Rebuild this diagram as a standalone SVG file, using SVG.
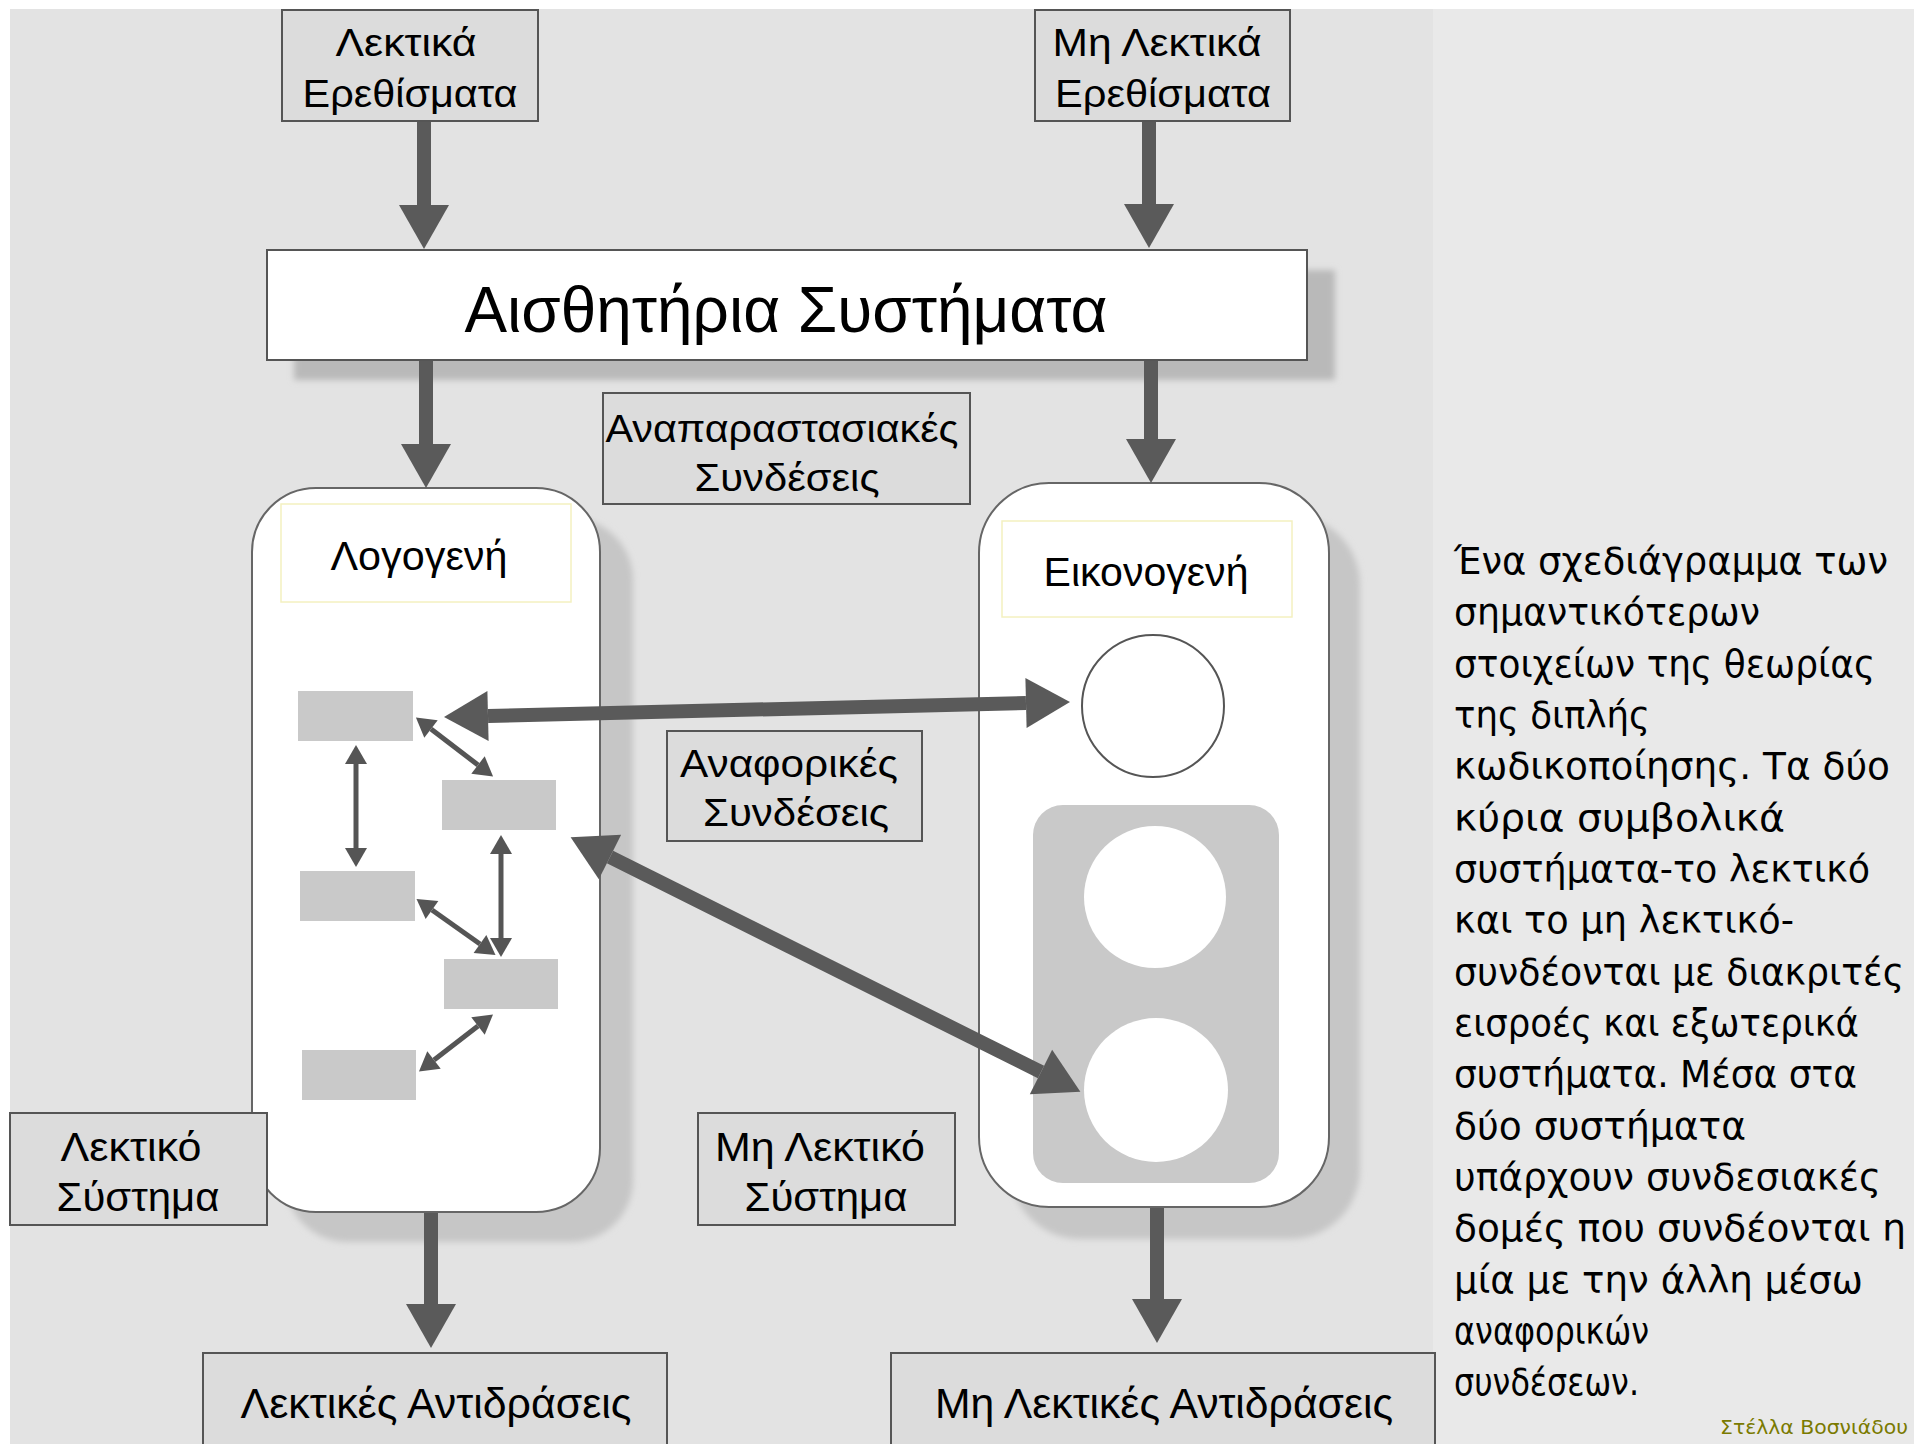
<svg xmlns="http://www.w3.org/2000/svg" width="1914" height="1444" viewBox="0 0 1914 1444">
<style>
  .lbl { font-family: "Liberation Sans", Arial, sans-serif; fill: #000; text-anchor: middle; }
  .box { fill: #dcdcdc; stroke: #555; stroke-width: 2; }
  .sys { fill: #ffffff; stroke: #666; stroke-width: 2; }
  .tag { fill: #ffffff; stroke: #f4f1c0; stroke-width: 1.5; }
  .blk { fill: #c9c9c9; }
  .big { stroke: #5a5a5a; stroke-width: 14; fill: none; }
  .small { stroke: #555; stroke-width: 5; fill: none; }
  .para { font-family: "DejaVu Sans", Verdana, sans-serif; font-size: 37px; fill: #000; }
</style>
<defs>
  <marker id="bigHead" markerUnits="userSpaceOnUse" markerWidth="46" markerHeight="52" refX="0" refY="26" orient="auto-start-reverse" overflow="visible">
    <path d="M0,1 L44,26 L0,51 z" fill="#5a5a5a"/>
  </marker>
  <marker id="smallHead" markerUnits="userSpaceOnUse" markerWidth="20" markerHeight="22" refX="0" refY="11" orient="auto-start-reverse" overflow="visible">
    <path d="M0,0 L19,11 L0,22 z" fill="#555"/>
  </marker>
  <filter id="soft" x="-10%" y="-10%" width="120%" height="120%">
    <feGaussianBlur stdDeviation="3"/>
  </filter>
</defs>

<!-- page background -->
<rect x="0" y="0" width="1914" height="1444" fill="#ffffff"/>
<rect x="10" y="9" width="1423" height="1435" fill="#e3e3e3"/>
<rect x="1433" y="9" width="481" height="1435" fill="#e9e9e9"/>

<!-- shadows -->
<g id="shadows">
  <rect x="294" y="270" width="1041" height="110" fill="#b9b9b9" filter="url(#soft)"/>
  <rect x="285" y="518" width="348" height="724" rx="62" fill="#c6c6c6" filter="url(#soft)"/>
  <rect x="1010" y="515" width="350" height="724" rx="70" fill="#c6c6c6" filter="url(#soft)"/>
</g>

<g id="node-lektika-erethismata">
  <rect class="box" x="282" y="10" width="256" height="111"/>
  <text class="lbl" x="406" y="56" font-size="38" textLength="141" lengthAdjust="spacingAndGlyphs">Λεκτικά</text>
  <text class="lbl" x="410" y="107" font-size="38" textLength="215" lengthAdjust="spacingAndGlyphs">Ερεθίσματα</text>
</g>

<g id="node-mi-lektika-erethismata">
  <rect class="box" x="1035" y="10" width="255" height="111"/>
  <text class="lbl" x="1157" y="56" font-size="38" textLength="209" lengthAdjust="spacingAndGlyphs">Μη Λεκτικά</text>
  <text class="lbl" x="1163" y="107" font-size="38" textLength="216" lengthAdjust="spacingAndGlyphs">Ερεθίσματα</text>
</g>

<g id="node-aisthitiria">
  <rect x="267" y="250" width="1040" height="110" fill="#ffffff" stroke="#555" stroke-width="2"/>
  <text class="lbl" x="786" y="332" font-size="64" textLength="643" lengthAdjust="spacingAndGlyphs">Αισθητήρια Συστήματα</text>
</g>

<g id="node-anaparastasiakes">
  <rect class="box" x="603" y="393" width="367" height="111"/>
  <text class="lbl" x="782" y="442" font-size="38" textLength="353" lengthAdjust="spacingAndGlyphs">Αναπαραστασιακές</text>
  <text class="lbl" x="787" y="491" font-size="38" textLength="185" lengthAdjust="spacingAndGlyphs">Συνδέσεις</text>
</g>

<g id="node-logogeni">
  <rect class="sys" x="252" y="488" width="348" height="724" rx="64"/>
  <rect class="tag" x="281" y="504" width="290" height="98"/>
  <text class="lbl" x="419" y="570" font-size="40" textLength="177" lengthAdjust="spacingAndGlyphs">Λογογενή</text>
  <rect class="blk" x="298" y="691" width="115" height="50"/>
  <rect class="blk" x="442" y="780" width="114" height="50"/>
  <rect class="blk" x="300" y="871" width="115" height="50"/>
  <rect class="blk" x="444" y="959" width="114" height="50"/>
  <rect class="blk" x="302" y="1050" width="114" height="50"/>
</g>

<g id="node-eikonogeni">
  <rect class="sys" x="979" y="483" width="350" height="724" rx="70"/>
  <rect class="tag" x="1002" y="521" width="290" height="96"/>
  <text class="lbl" x="1146" y="586" font-size="41" textLength="205" lengthAdjust="spacingAndGlyphs">Εικονογενή</text>
  <circle cx="1153" cy="706" r="71" fill="#ffffff" stroke="#555" stroke-width="2"/>
  <rect x="1033" y="805" width="246" height="378" rx="30" fill="#c9c9c9"/>
  <circle cx="1155" cy="897" r="71" fill="#ffffff"/>
  <circle cx="1156" cy="1090" r="72" fill="#ffffff"/>
</g>

<g id="node-anaforikes">
  <rect class="box" x="667" y="731" width="255" height="110"/>
  <text class="lbl" x="789" y="777" font-size="38" textLength="218" lengthAdjust="spacingAndGlyphs">Αναφορικές</text>
  <text class="lbl" x="796" y="826" font-size="38" textLength="186" lengthAdjust="spacingAndGlyphs">Συνδέσεις</text>
</g>

<g id="node-lektiko-systima">
  <rect class="box" x="10" y="1113" width="257" height="112"/>
  <text class="lbl" x="131" y="1161" font-size="40" textLength="141" lengthAdjust="spacingAndGlyphs">Λεκτικό</text>
  <text class="lbl" x="138" y="1211" font-size="40" textLength="163" lengthAdjust="spacingAndGlyphs">Σύστημα</text>
</g>

<g id="node-mi-lektiko-systima">
  <rect class="box" x="698" y="1113" width="257" height="112"/>
  <text class="lbl" x="820" y="1161" font-size="40" textLength="210" lengthAdjust="spacingAndGlyphs">Μη Λεκτικό</text>
  <text class="lbl" x="826" y="1211" font-size="40" textLength="163" lengthAdjust="spacingAndGlyphs">Σύστημα</text>
</g>

<g id="node-lektikes-antidraseis">
  <rect class="box" x="203" y="1353" width="464" height="100"/>
  <text class="lbl" x="436" y="1418" font-size="42" textLength="391" lengthAdjust="spacingAndGlyphs">Λεκτικές Αντιδράσεις</text>
</g>

<g id="node-mi-lektikes-antidraseis">
  <rect class="box" x="891" y="1353" width="544" height="100"/>
  <text class="lbl" x="1164" y="1418" font-size="42" textLength="458" lengthAdjust="spacingAndGlyphs">Μη Λεκτικές Αντιδράσεις</text>
</g>

<g id="connectors">
  <line class="big" x1="424" y1="122" x2="424" y2="205" marker-end="url(#bigHead)"/>
  <line class="big" x1="1149" y1="122" x2="1149" y2="204" marker-end="url(#bigHead)"/>
  <line class="big" x1="426" y1="361" x2="426" y2="444" marker-end="url(#bigHead)"/>
  <line class="big" x1="1151" y1="361" x2="1151" y2="439" marker-end="url(#bigHead)"/>
  <line class="big" x1="431" y1="1213" x2="431" y2="1304" marker-end="url(#bigHead)"/>
  <line class="big" x1="1157" y1="1208" x2="1157" y2="1299" marker-end="url(#bigHead)"/>
  <line class="big" x1="488" y1="716" x2="1026" y2="703" marker-start="url(#bigHead)" marker-end="url(#bigHead)"/>
  <line class="big" x1="610" y1="857" x2="1041" y2="1072" marker-start="url(#bigHead)" marker-end="url(#bigHead)"/>
  <line class="small" x1="356" y1="764" x2="356" y2="848" marker-start="url(#smallHead)" marker-end="url(#smallHead)"/>
  <line class="small" x1="431" y1="729" x2="478" y2="765" marker-start="url(#smallHead)" marker-end="url(#smallHead)"/>
  <line class="small" x1="501" y1="854" x2="501" y2="938" marker-start="url(#smallHead)" marker-end="url(#smallHead)"/>
  <line class="small" x1="432" y1="910" x2="480" y2="944" marker-start="url(#smallHead)" marker-end="url(#smallHead)"/>
  <line class="small" x1="478" y1="1026" x2="434" y2="1060" marker-start="url(#smallHead)" marker-end="url(#smallHead)"/>
</g>

<g id="caption">
  <text class="para" x="1454" y="574" textLength="434" lengthAdjust="spacingAndGlyphs">Ένα σχεδιάγραμμα των</text>
  <text class="para" x="1454" y="625" textLength="306" lengthAdjust="spacingAndGlyphs">σημαντικότερων</text>
  <text class="para" x="1454" y="677" textLength="421" lengthAdjust="spacingAndGlyphs">στοιχείων της θεωρίας</text>
  <text class="para" x="1454" y="728" textLength="196" lengthAdjust="spacingAndGlyphs">της διπλής</text>
  <text class="para" x="1454" y="779" textLength="436" lengthAdjust="spacingAndGlyphs">κωδικοποίησης. Τα δύο</text>
  <text class="para" x="1454" y="831" textLength="331" lengthAdjust="spacingAndGlyphs">κύρια συμβολικά</text>
  <text class="para" x="1454" y="882" textLength="416" lengthAdjust="spacingAndGlyphs">συστήματα-το λεκτικό</text>
  <text class="para" x="1454" y="933" textLength="340" lengthAdjust="spacingAndGlyphs">και το μη λεκτικό-</text>
  <text class="para" x="1454" y="985" textLength="450" lengthAdjust="spacingAndGlyphs">συνδέονται με διακριτές</text>
  <text class="para" x="1454" y="1036" textLength="405" lengthAdjust="spacingAndGlyphs">εισροές και εξωτερικά</text>
  <text class="para" x="1454" y="1087" textLength="403" lengthAdjust="spacingAndGlyphs">συστήματα. Μέσα στα</text>
  <text class="para" x="1454" y="1139" textLength="292" lengthAdjust="spacingAndGlyphs">δύο συστήματα</text>
  <text class="para" x="1454" y="1190" textLength="427" lengthAdjust="spacingAndGlyphs">υπάρχουν συνδεσιακές</text>
  <text class="para" x="1454" y="1241" textLength="452" lengthAdjust="spacingAndGlyphs">δομές που συνδέονται η</text>
  <text class="para" x="1454" y="1293" textLength="409" lengthAdjust="spacingAndGlyphs">μία με την άλλη μέσω</text>
  <text class="para" x="1454" y="1344" textLength="195" lengthAdjust="spacingAndGlyphs">αναφορικών</text>
  <text class="para" x="1454" y="1395" textLength="185" lengthAdjust="spacingAndGlyphs">συνδέσεων.</text>
  <text x="1720" y="1434" font-family="DejaVu Sans, Verdana, sans-serif" font-size="19" fill="#7a7a00" textLength="188" lengthAdjust="spacingAndGlyphs">Στέλλα Βοσνιάδου</text>
</g>
</svg>
